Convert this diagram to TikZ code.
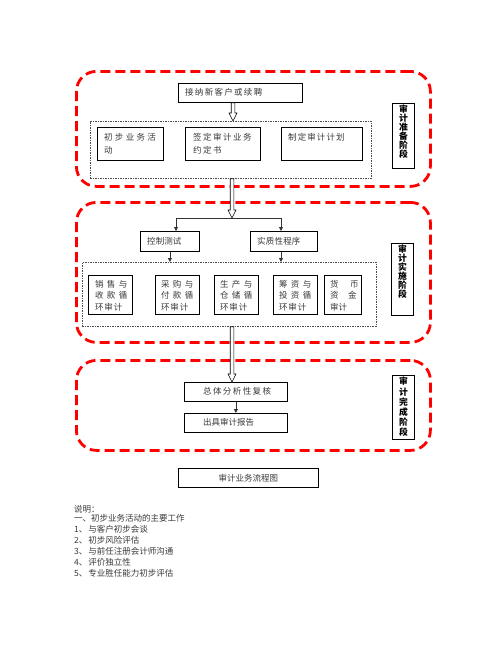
\documentclass[tikz,border=0pt]{standalone}
\usepackage{fontspec}
\setmainfont{Noto Sans CJK SC}
\usetikzlibrary{arrows.meta,calc}
\def\lsp#1#2{\def\lspsep{\hspace{#1pt}}\lsploop#2\relax}
\def\lsploop#1{\ifx\relax#1\else#1\lspsep\expandafter\lsploop\fi}
\newcommand\harrow[3]{%
  \draw[hollow] let \p1=#2, \p2=#3 in
  ({#1pt-1.8pt},\y1) -- ({#1pt-1.8pt},{\y2+8pt}) -- ({#1pt-4pt},{\y2+8pt}) --
  (#1pt,\y2) -- ({#1pt+4pt},{\y2+8pt}) -- ({#1pt+1.8pt},{\y2+8pt}) -- ({#1pt+1.8pt},\y1) -- cycle;}
\begin{document}
\begin{tikzpicture}[x=1pt,y=-1pt,
  stage/.style={draw=red, line width=2.8pt, dash pattern=on 10pt off 5pt, rounded corners=20pt, inner sep=0pt, anchor=north west},
  grp/.style={draw=black!70, line width=0.7pt, dash pattern=on 1.5pt off 1pt, inner sep=0pt, anchor=north west},
  bx/.style={draw=black, line width=0.8pt, inner sep=0pt, anchor=north west},
  tx/.style={text=black!78, font=\fontsize{8.5}{13}\selectfont, inner sep=0pt, anchor=west, align=left},
  txb/.style={tx, font=\fontsize{8.5}{11.5}\selectfont},
  vl/.style={text=black, font=\bfseries\fontsize{8.8}{9}\selectfont, inner sep=0pt, anchor=north, align=center},
  sa/.style={draw=black!80, line width=0.8pt, -{Triangle[length=4pt,width=4pt]}},
  hollow/.style={draw=black, line width=0.6pt, fill=white},
]
\useasboundingbox (0,0) rectangle (502,649);
% stages
\node[stage, minimum width=354pt, minimum height=115pt] (s1) at (75,70) {};
\node[stage, minimum width=354pt, minimum height=140pt] (s2) at (75,201) {};
\node[stage, minimum width=354pt, minimum height=90pt] (s3) at (75,359) {};
% stage 1
\node[bx, minimum width=124pt, minimum height=19pt] (a0) at (178,83) {};
\node[tx] (ta0) at (185,92.5) {\lsp{1.3}{接纳新客户或续聘}};
\node[grp, minimum width=281pt, minimum height=57pt] (g1) at (90,121) {};
\node[bx, minimum width=66pt, minimum height=33pt] (p1) at (97,127) {};
\node[bx, minimum width=75pt, minimum height=33pt] (p2) at (185,127) {};
\node[bx, minimum width=81pt, minimum height=33pt] (p3) at (281,127) {};
\node[tx] (tp1) at (104,143.5) {\lsp{2.3}{初步业务活}\\动};
\node[tx] (tp2) at (193,143.5) {\lsp{1.5}{签定审计业务}\\\lsp{1.5}{约定书}};
\node[tx] (tp3) at (288,137) {\lsp{1.1}{制定审计计划}};
\node[bx, minimum width=22pt, minimum height=65pt] (l1) at (392,103) {};
\node[vl] (tl1) at (l1.north) [yshift=-2pt] {审\\计\\准\\备\\阶\\段};
% stage 2
\coordinate (br) at (232,218);
\coordinate (c1) at (176,218);
\coordinate (c2) at (281,218);
\node[bx, minimum width=59pt, minimum height=20pt] (k1) at (140,231) {};
\node[bx, minimum width=67pt, minimum height=20pt] (k2) at (250,231) {};
\node[tx] (tk1) at (147,241) {\lsp{0.1}{控制测试}};
\node[tx] (tk2) at (257,241) {\lsp{0.2}{实质性程序}};
\node[grp, minimum width=294pt, minimum height=64pt] (g2) at (82,262) {};
\node[bx, minimum width=44pt, minimum height=39pt] (q1) at (88,275) {};
\node[bx, minimum width=44pt, minimum height=39pt] (q2) at (155,275) {};
\node[bx, minimum width=44pt, minimum height=39pt] (q3) at (214,275) {};
\node[bx, minimum width=44pt, minimum height=39pt] (q4) at (273,275) {};
\node[bx, minimum width=37pt, minimum height=39pt] (q5) at (324,275) {};
\node[txb] (tq1) at (95,295.5) {\lsp{3.3}{销售与}\\\lsp{3.3}{收款循}\\\lsp{0.8}{环审计}};
\node[txb] (tq2) at (161,295.5) {\lsp{3.3}{采购与}\\\lsp{3.3}{付款循}\\\lsp{0.8}{环审计}};
\node[txb] (tq3) at (220,295.5) {\lsp{3.3}{生产与}\\\lsp{3.3}{仓储循}\\\lsp{0.8}{环审计}};
\node[txb] (tq4) at (279,295.5) {\lsp{3.3}{筹资与}\\\lsp{3.3}{投资循}\\\lsp{0.8}{环审计}};
\node[txb] (tq5) at (330,295.5) {货\hspace{11.5pt}币\\资\hspace{9.5pt}金\\审计};
\node[bx, minimum width=22pt, minimum height=72pt] (l2) at (391,243) {};
\node[vl] (tl2) at (l2.north) [yshift=-2pt] {审\\计\\实\\施\\阶\\段};
% stage 3
\node[bx, minimum width=103pt, minimum height=19pt] (f1) at (184,382) {};
\node[bx, minimum width=103pt, minimum height=19pt] (f2) at (184,413) {};
\node[tx] (tf1) at (203,391.5) {\lsp{1.4}{总体分析性复核}};
\node[tx] (tf2) at (203,422.5) {出具审计报告};
\node[bx, minimum width=22pt, minimum height=64pt] (l3) at (392,375) {};
\node[vl, font=\bfseries\fontsize{8.8}{10.2}\selectfont] (tl3) at (l3.north) [yshift=-2pt] {审\\计\\完\\成\\阶\\段};
% connectors
\harrow{233}{(a0.south)}{(g1.north)}
\harrow{232}{(g1.south)}{(br)}
\harrow{232}{(g2.south)}{(f1.north)}
\draw[draw=black!80, line width=0.8pt] (c1) -- (c2);
\draw[sa] (c1) -- (c1 |- k1.north);
\draw[sa] (c2) -- (c2 |- k2.north);
\draw[sa] (k1.south) -- (k1.south |- g2.north);
\draw[sa] (k2.south -| c2) -- (c2 |- g2.north);
\draw[sa] (f1.south) -- (f2.north);
% title
\node[bx, minimum width=140pt, minimum height=19pt, text=black!78, font=\fontsize{8.5}{11}\selectfont] (ttl) at (178,468) {审计业务流程图};
% notes
\node[tx] (n0) at (74,509) {说明：};
\node[tx] (n1) at (74,518) {一、初步业务活动的主要工作};
\node[tx] (n2) at (74,529.5) {1、\hspace{1pt}与客户初步会谈};
\node[tx] (n3) at (74,540.5) {2、\hspace{1pt}初步风险评估};
\node[tx] (n4) at (74,551) {3、\hspace{1pt}与前任注册会计师沟通};
\node[tx] (n5) at (74,562) {4、\hspace{1pt}评价独立性};
\node[tx] (n6) at (74,573) {5、\hspace{1pt}专业胜任能力初步评估};
\end{tikzpicture}
\end{document}
